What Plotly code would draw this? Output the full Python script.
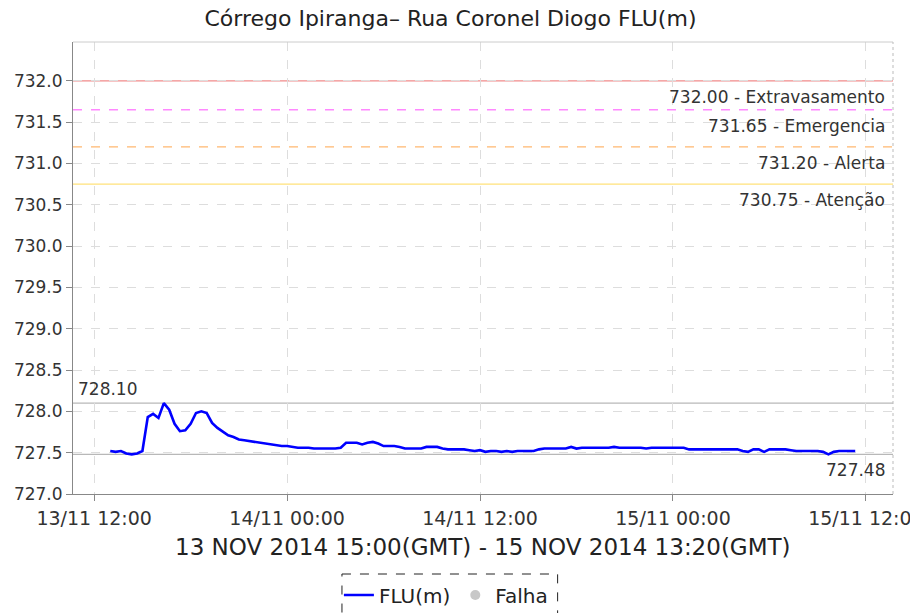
import pandas as pd
import plotly.graph_objects as go

# Water level readings (m), one every 20 minutes from 13/11/2014 13:00 local time
series_start = "2014-11-13 13:00"
flu_m = [
    727.52, 727.51, 727.52, 727.49, 727.48, 727.49, 727.52, 727.93, 727.97, 727.92,
    728.10, 728.02, 727.85, 727.76, 727.77, 727.85, 727.98, 728.00, 727.98, 727.86,
    727.80, 727.75, 727.71, 727.69, 727.66, 727.65, 727.64, 727.63, 727.62, 727.61,
    727.60, 727.59, 727.58, 727.58, 727.57, 727.56, 727.56, 727.56, 727.55, 727.55,
    727.55, 727.55, 727.55, 727.56, 727.62, 727.62, 727.62, 727.60, 727.62, 727.63,
    727.61, 727.58, 727.58, 727.58, 727.57, 727.55, 727.55, 727.55, 727.55, 727.57,
    727.57, 727.57, 727.55, 727.54, 727.54, 727.54, 727.54, 727.53, 727.52, 727.53,
    727.51, 727.52, 727.52, 727.51, 727.52, 727.51, 727.52, 727.52, 727.52, 727.52,
    727.54, 727.55, 727.55, 727.55, 727.55, 727.55, 727.57, 727.55, 727.56, 727.56,
    727.56, 727.56, 727.56, 727.56, 727.57, 727.56, 727.56, 727.56, 727.56, 727.56,
    727.55, 727.56, 727.56, 727.56, 727.56, 727.56, 727.56, 727.56, 727.54, 727.54,
    727.54, 727.54, 727.54, 727.54, 727.54, 727.54, 727.54, 727.54, 727.52, 727.51,
    727.54, 727.54, 727.51, 727.54, 727.54, 727.54, 727.54, 727.53, 727.52, 727.52,
    727.52, 727.52, 727.52, 727.51, 727.48, 727.51, 727.52, 727.52, 727.52, 727.52,
]
times = pd.date_range(series_start, periods=len(flu_m), freq="20min")

# Alert thresholds
threshold_values = [732.00, 731.65, 731.20, 730.75]
threshold_names = ["Extravasamento", "Emergencia", "Alerta", "Atenção"]
threshold_colors = ["#f08a8a", "#ff88ff", "#ffb870", "#ffe27a"]
threshold_dashes = ["solid", "dash", "dash", "solid"]

y_ticks = [727.0, 727.5, 728.0, 728.5, 729.0, 729.5, 730.0, 730.5, 731.0, 731.5, 732.0]

title_text = "Córrego Ipiranga– Rua Coronel Diogo FLU(m)"
period_text = "13 NOV 2014 15:00(GMT) - 15 NOV 2014 13:20(GMT)"

FONT = "DejaVu Sans"
TXT = "#333333"

fig = go.Figure()

fig.add_trace(go.Scatter(
    x=times, y=flu_m, mode="lines", name="FLU(m)",
    line=dict(color="#0000ff", width=2.6),
))
fig.add_trace(go.Scatter(
    x=[None], y=[None], mode="markers", name="Falha",
    marker=dict(color="#c8c8c8", size=10, symbol="circle"),
))

shapes = []
annotations = []

# threshold lines with right-aligned labels
for val, name, col, dash in zip(threshold_values, threshold_names, threshold_colors, threshold_dashes):
    shapes.append(dict(type="line", xref="paper", x0=0, x1=1, yref="y", y0=val, y1=val,
                       line=dict(color=col, width=1.3, dash=dash), layer="below"))
    annotations.append(dict(xref="paper", x=1, xanchor="right", xshift=-6,
                            yref="y", y=val, yanchor="top", yshift=-4,
                            text=f"{val:.2f} - {name}", showarrow=False,
                            font=dict(family=FONT, size=17, color=TXT)))

# max / min markers
vmax, vmin = max(flu_m), min(flu_m)
for val in (vmax, vmin):
    shapes.append(dict(type="line", xref="paper", x0=0, x1=1, yref="y", y0=val, y1=val,
                       line=dict(color="#b8b8b8", width=1.3), layer="below"))
annotations.append(dict(xref="paper", x=0, xanchor="left", xshift=3,
                        yref="y", y=vmax, yanchor="bottom", yshift=2,
                        text=f"{vmax:.2f}", showarrow=False,
                        font=dict(family=FONT, size=17, color=TXT)))
annotations.append(dict(xref="paper", x=1, xanchor="right", xshift=-6,
                        yref="y", y=vmin, yanchor="top", yshift=-4,
                        text=f"{vmin:.2f}", showarrow=False,
                        font=dict(family=FONT, size=17, color=TXT)))

# period caption under the time axis
annotations.append(dict(xref="paper", x=0.5, xanchor="center",
                        yref="paper", y=-0.1175, yanchor="middle",
                        text=period_text, showarrow=False,
                        font=dict(family=FONT, size=23, color="#222222")))

# frame: light top edge and dotted right edge
shapes.append(dict(type="line", xref="paper", yref="paper", x0=0, x1=1, y0=1, y1=1,
                   line=dict(color="#cccccc", width=1)))
shapes.append(dict(type="line", xref="paper", yref="paper", x0=1, x1=1, y0=0, y1=1,
                   line=dict(color="#bbbbbb", width=1, dash="dot")))

# dashed box around the legend
shapes.append(dict(type="rect", xref="paper", yref="paper",
                   x0=0.328, x1=0.591, y0=-0.177, y1=-0.30,
                   line=dict(color="#222222", width=1, dash="dash")))

fig.update_layout(
    width=910, height=613,
    margin=dict(l=73, r=17, t=42, b=119, autoexpand=False),
    paper_bgcolor="white", plot_bgcolor="white",
    title=dict(text=title_text, x=0.495, xanchor="center", y=1 - 18 / 613, yanchor="middle",
               yref="container", font=dict(family=FONT, size=22, color="#222222")),
    showlegend=True,
    legend=dict(orientation="h", xref="container", x=0.49, xanchor="center",
                yref="container", y=1 - 595 / 613, yanchor="middle",
                font=dict(family=FONT, size=20, color="#222222"),
                bgcolor="rgba(0,0,0,0)", borderwidth=0, itemwidth=30),
    shapes=shapes,
    annotations=annotations,
)

fig.update_xaxes(
    type="date",
    range=["2014-11-13 10:41", "2014-11-15 13:41"],
    tick0="2014-11-13 00:00", dtick=12 * 3600 * 1000,
    tickformat="%d/%m %H:%M",
    tickfont=dict(family=FONT, size=19, color=TXT),
    ticks="outside", ticklen=6, tickcolor="#888888",
    ticklabelstandoff=1, ticklabeloverflow="allow",
    showgrid=True, gridcolor="#dddddd", griddash="dash", gridwidth=1,
    showline=True, linecolor="#888888", linewidth=1,
    zeroline=False,
)
fig.update_yaxes(
    range=[727.0, 732.47],
    tickvals=y_ticks, ticktext=[f"{v:.1f}" for v in y_ticks],
    tickfont=dict(family=FONT, size=17, color=TXT),
    ticks="outside", ticklen=6, tickcolor="#888888",
    showgrid=True, gridcolor="#dddddd", griddash="dash", gridwidth=1,
    showline=True, linecolor="#888888", linewidth=1,
    zeroline=False,
)

fig.write_html("out.html")
